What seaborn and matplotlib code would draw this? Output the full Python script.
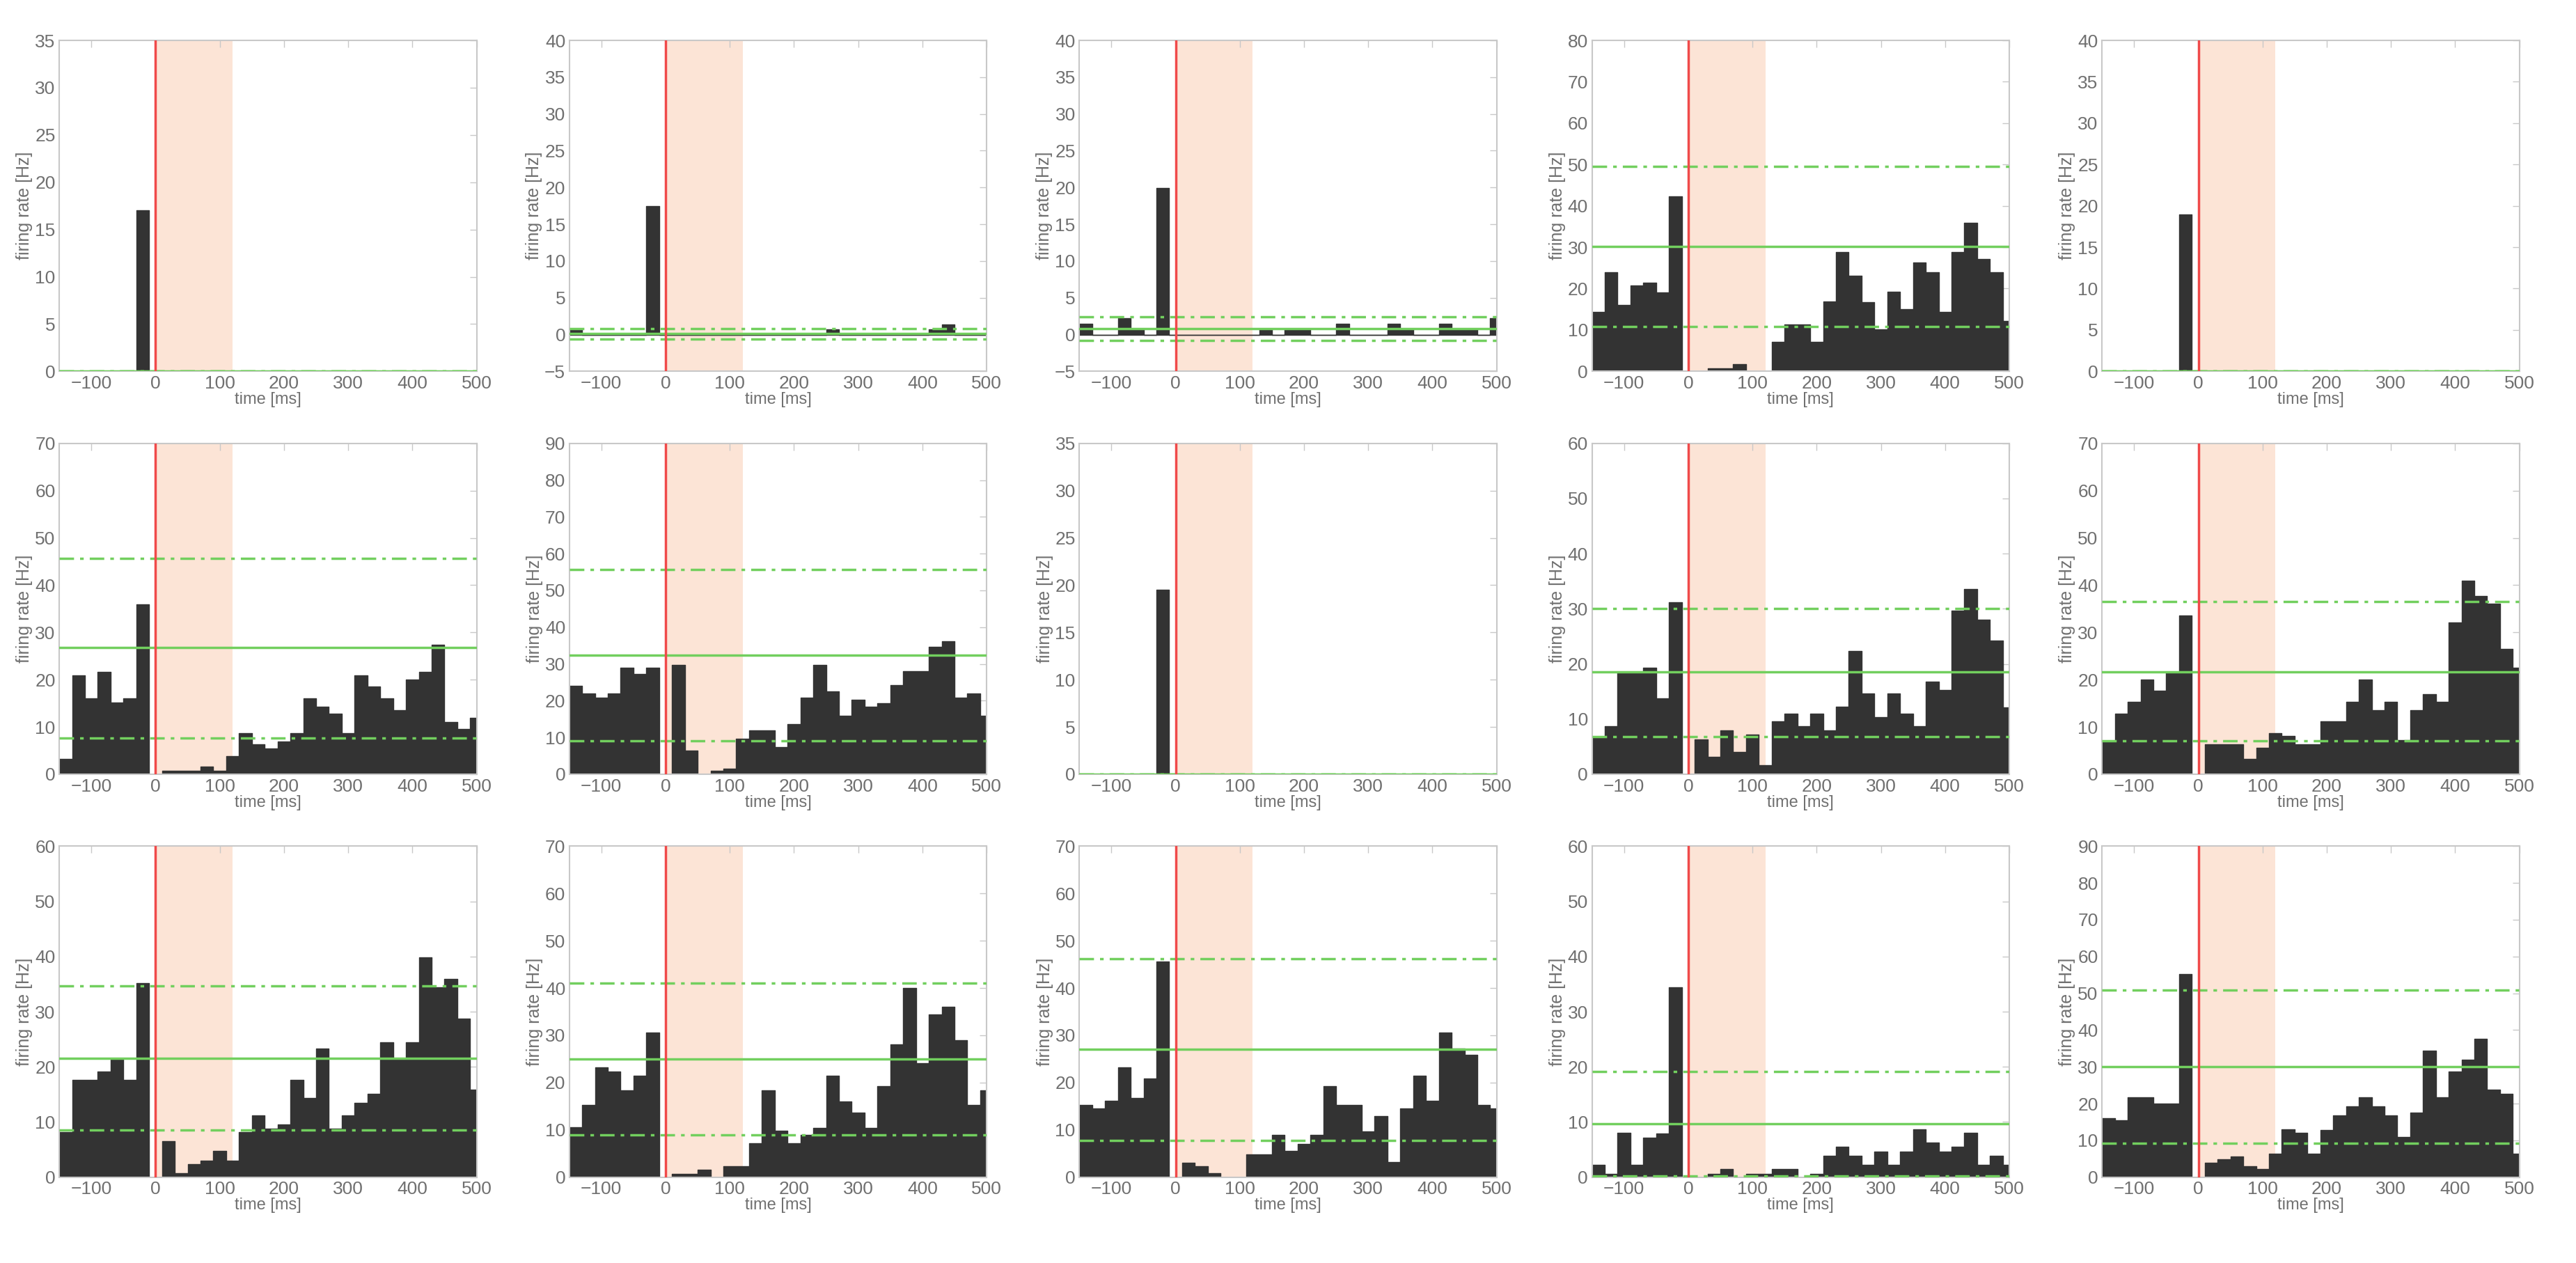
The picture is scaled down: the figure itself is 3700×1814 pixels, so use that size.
import numpy as np
import pandas as pd
import matplotlib
matplotlib.use("Agg")
import matplotlib.pyplot as plt
import seaborn as sns

# PSTH bins: 20 ms wide, centred on -140 ... 500 ms
bin_centers = list(range(-140, 501, 20))
bin_edges = list(range(-150, 511, 20))

# firing rates [Hz] per panel (row, column)
r1c1 = [0, 0, 0, 0, 0, 0, 17.0, 0] + [0] * 25
r1c2 = [0.7, 0, 0, 0, 0, 0, 17.5, 0,
        0, 0, 0, 0, 0, 0, 0, 0, 0, 0, 0, 0, 0.7, 0, 0, 0, 0, 0, 0, 0, 0.7, 1.4, 0, 0, 0]
r1c3 = [1.45, 0, 0, 2.25, 0.73, 0, 19.9, 0,
        0, 0, 0, 0, 0, 0, 0.73, 0, 0.73, 0.73, 0, 0, 1.45, 0, 0, 0, 1.45, 0.73, 0, 0, 1.45, 0.73, 0.73, 0, 2.2]
r1c4 = [14.4, 23.9, 16.0, 20.8, 21.5, 19.1, 42.3, 0,
        0, 0.8, 0.8, 1.7, 0, 0, 7.1, 11.3, 11.3, 7.1, 16.9, 28.8, 23.1, 16.8, 10.2, 19.2, 15.0,
        26.3, 23.9, 14.4, 28.8, 35.9, 27.1, 23.9, 12.1]
r1c5 = [0, 0, 0, 0, 0, 0, 19.0, 0] + [0] * 25
r2c1 = [3.2, 20.9, 16.0, 21.7, 15.2, 16.0, 36.0, 0,
        0.7, 0.7, 0.7, 1.6, 0.7, 3.9, 8.7, 6.3, 5.5, 6.9, 8.7, 16.0, 14.3, 12.8, 8.7, 20.9, 18.6,
        16.0, 13.6, 20.0, 21.7, 27.4, 11.1, 9.5, 11.9]
r2c2 = [24.1, 21.9, 20.8, 21.9, 28.9, 27.3, 28.9, 0,
        29.7, 6.4, 0, 0.9, 1.6, 9.6, 12.0, 12.0, 7.3, 13.6, 20.8, 29.7, 22.6, 15.9, 20.2, 18.4, 19.3,
        24.2, 28.1, 28.1, 34.6, 36.1, 20.8, 21.9, 15.9]
r2c3 = [0, 0, 0, 0, 0, 0, 19.5, 0] + [0] * 25
r2c4 = [6.6, 8.7, 18.4, 18.4, 19.3, 13.7, 31.2, 0,
        6.3, 3.2, 8.0, 4.0, 7.2, 1.6, 9.6, 11.0, 8.7, 11.0, 7.9, 12.2, 22.4, 14.6, 10.3, 14.6, 11.0,
        8.7, 16.8, 15.3, 29.7, 33.6, 28.0, 24.2, 12.1]
r2c5 = [7.1, 12.8, 15.3, 20.0, 17.7, 21.7, 33.6, 0,
        6.3, 6.3, 6.3, 3.2, 5.6, 8.7, 8.1, 6.3, 6.3, 11.2, 11.2, 15.3, 20.0, 13.6, 15.3, 7.2, 13.6,
        16.9, 15.3, 32.1, 40.9, 37.7, 36.1, 26.5, 22.6]
r3c1 = [8.2, 17.6, 17.6, 19.1, 21.5, 17.6, 35.2, 0,
        6.5, 0.7, 2.3, 3.0, 4.7, 3.0, 8.1, 11.2, 8.8, 9.6, 17.6, 14.3, 23.3, 8.8, 11.2, 13.5, 15.1,
        24.5, 21.6, 24.5, 39.9, 34.4, 35.9, 28.8, 15.9]
r3c2 = [10.5, 15.2, 23.2, 22.4, 18.4, 21.5, 30.6, 0,
        0.7, 0.7, 1.5, 0, 2.3, 2.3, 7.2, 18.4, 9.8, 7.2, 8.9, 10.4, 21.5, 16.0, 13.6, 10.4, 19.3,
        28.1, 40.0, 24.1, 34.4, 36.0, 29.0, 15.2, 18.4]
r3c3 = [15.2, 14.5, 16.2, 23.2, 16.7, 20.8, 45.6, 0,
        3.1, 2.3, 0.8, 0, 0, 4.8, 4.8, 8.9, 5.5, 7.0, 8.9, 19.3, 15.2, 15.2, 9.7, 12.9, 3.2,
        14.5, 21.5, 16.2, 30.6, 27.2, 25.9, 15.2, 14.5]
r3c4 = [2.2, 0.6, 8.0, 2.2, 7.2, 7.9, 34.4, 0,
        0, 0.6, 1.5, 0, 0.6, 0.6, 1.5, 1.5, 0, 0.6, 3.9, 5.5, 3.9, 2.2, 4.6, 2.2, 4.6,
        8.7, 6.3, 4.6, 5.5, 8.0, 2.2, 3.9, 2.2]
r3c5 = [16.1, 15.4, 21.7, 21.7, 20.1, 20.1, 55.2, 0,
        4.0, 4.9, 5.6, 2.9, 2.3, 6.3, 13.0, 12.1, 6.3, 12.8, 16.8, 19.2, 21.7, 19.2, 16.8, 11.0, 17.5,
        34.4, 21.7, 28.8, 31.9, 37.7, 23.8, 22.6, 6.3]

panels = [r1c1, r1c2, r1c3, r1c4, r1c5,
          r2c1, r2c2, r2c3, r2c4, r2c5,
          r3c1, r3c2, r3c3, r3c4, r3c5]

# baseline mean and the two threshold lines
base_mean = [0, 0.1, 0.8, 30.2, 0, 26.8, 32.3, 0, 18.5, 21.6, 21.5, 25.0, 27.0, 9.7, 30.0]
thr_upper = [0, 0.85, 2.4, 49.5, 0, 45.6, 55.6, 0, 30.0, 36.5, 34.7, 41.1, 46.2, 19.2, 50.8]
thr_lower = [0, -0.65, -0.8, 10.8, 0, 7.7, 9.0, 0, 6.8, 7.0, 8.5, 9.0, 7.8, 0.2, 9.3]

y_min = [0, -5, -5, 0, 0, 0, 0, 0, 0, 0, 0, 0, 0, 0, 0]
y_max = [35, 40, 40, 80, 40, 70, 90, 35, 60, 70, 60, 70, 70, 60, 90]

stim_window = (0, 120)

# colours
bar_col = "#333333"
green = "#72cf5e"
red = "#f04a4a"
shade = "#fce4d6"
grey_txt = "#707070"
grey_axis = "#c8c8c8"

sns.set_style("white")
plt.rcParams["font.family"] = ["Liberation Sans Narrow", "Liberation Sans", "DejaVu Sans"]

fig = plt.figure(figsize=(37, 18.14), dpi=100)

col_left = [0.023, 0.221, 0.419, 0.618, 0.816]
row_bottom = [0.706, 0.387, 0.068]
ax_w, ax_h = 0.162, 0.262

for i, rates in enumerate(panels):
    r, c = divmod(i, 5)
    ax = fig.add_axes([col_left[c], row_bottom[r], ax_w, ax_h])
    df = pd.DataFrame({"time": bin_centers, "rate": rates})

    ax.axvspan(*stim_window, color=shade, lw=0, zorder=0)
    sns.histplot(data=df, x="time", weights="rate", bins=bin_edges,
                 element="step", fill=True, color=bar_col, alpha=1,
                 edgecolor=bar_col, linewidth=1, ax=ax, zorder=2)

    ax.axhline(base_mean[i], color=green, lw=2.5, zorder=3)
    ax.axhline(thr_upper[i], color=green, lw=2.5, ls=(0, (6, 2.5, 1.5, 2.5)), zorder=3)
    ax.axhline(thr_lower[i], color=green, lw=2.5, ls=(0, (6, 2.5, 1.5, 2.5)), zorder=3)
    ax.axvline(0, color=red, lw=2.5, zorder=4)

    ax.set_xlim(-150, 500)
    ax.set_ylim(y_min[i], y_max[i])
    step = 5 if y_max[i] <= 40 else 10
    ax.set_yticks(np.arange(y_min[i], y_max[i] + 0.1, step))
    ax.set_xticks([-100, 0, 100, 200, 300, 400, 500])

    ax.set_xlabel("time [ms]", fontsize=17, color=grey_txt, labelpad=0)
    ax.set_ylabel("firing rate [Hz]", fontsize=18, color=grey_txt, labelpad=2)
    ax.tick_params(axis="both", direction="in", length=7, width=1, colors=grey_axis,
                   labelcolor=grey_txt, labelsize=19, top=True, right=True, pad=4)
    for sp in ax.spines.values():
        sp.set_color(grey_axis)
        sp.set_linewidth(1.5)
    ax.set_facecolor("white")

fig.savefig("out.png", dpi=100, facecolor="white")
